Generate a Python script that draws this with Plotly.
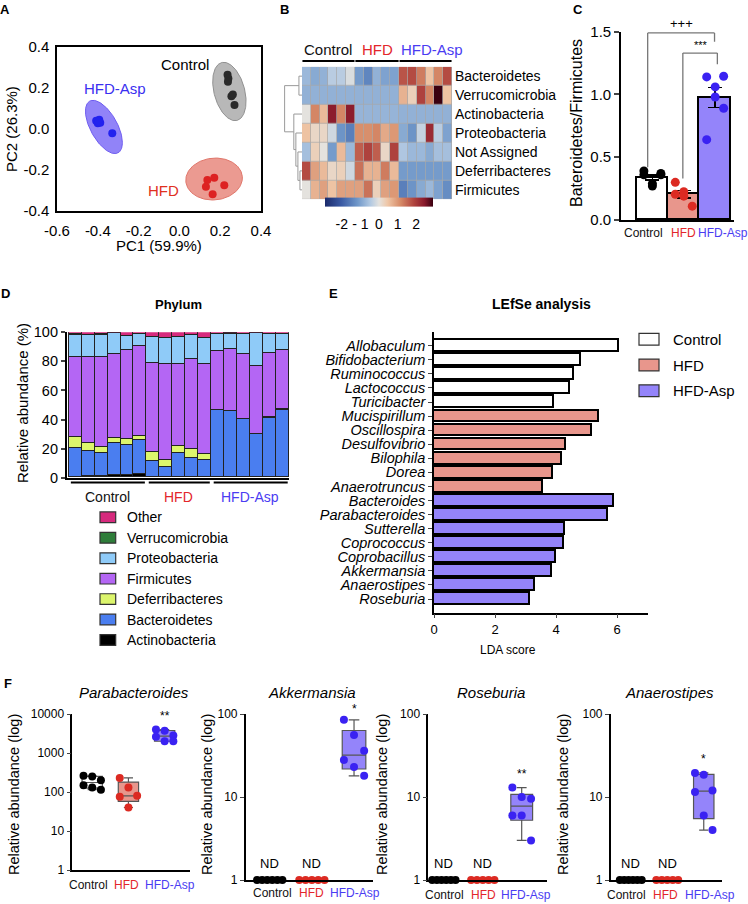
import numpy as np
import plotly.graph_objects as go

W, H = 748, 904
FONT = "Liberation Sans, Arial, sans-serif"


def xd(a, b):
    return [a / W, b / W]


def yd(t, b):
    return [1 - b / H, 1 - t / H]


def px(x):
    return x / W


def py(y):
    return 1 - y / H


groups = ["Control", "HFD", "HFD-Asp"]
group_text_color = {"Control": "#111111", "HFD": "#e3262b", "HFD-Asp": "#4a3cf2"}
group_fill = {"Control": "#ffffff", "HFD": "#e8968c", "HFD-Asp": "#9484fa"}
group_dot = {"Control": "#000000", "HFD": "#dc2a22", "HFD-Asp": "#3a22f2"}

# ---------------- A: PCA ----------------
pca_control_pc1 = [0.236, 0.240, 0.238, 0.255, 0.262, 0.270]
pca_control_pc2 = [0.265, 0.246, 0.231, 0.160, 0.168, 0.117]
pca_hfd_pc1 = [0.137, 0.171, 0.220, 0.130, 0.163]
pca_hfd_pc2 = [-0.249, -0.238, -0.275, -0.282, -0.318]
pca_asp_pc1 = [-0.408, -0.400, -0.393, -0.388, -0.395, -0.329]
pca_asp_pc2 = [0.040, 0.028, 0.045, 0.031, 0.036, -0.021]
# confidence ellipses: centre x, centre y, semi-major, semi-minor, angle (deg)
ellipse_control = [0.245, 0.183, 0.146, 0.075, 105]
ellipse_hfd = [0.170, -0.244, 0.139, 0.102, 5]
ellipse_asp = [-0.370, 0.010, 0.144, 0.066, 119]
pc_ticks = [-0.6, -0.4, -0.2, 0.0, 0.2, 0.4]
pc2_ticks = [-0.4, -0.2, 0.0, 0.2, 0.4]

# ---------------- B: heatmap ----------------
heat_rows = ["Bacteroidetes", "Verrucomicrobia", "Actinobacteria", "Proteobacteria",
             "Not Assigned", "Deferribacteres", "Firmicutes"]
heat_bacteroidetes = [-0.7, -0.9, -0.8, -0.4, -0.4, -0.1, -1.1, -1.4, -0.8, -1.0, -1.0, 1.7, 1.8, 1.3, 0.5, 1.2, 1.8]
heat_verrucomicrobia = [-0.8, -0.8, -0.8, -0.8, -0.8, -0.8, -0.8, -0.8, -0.8, -0.8, -0.8, 0.7, 0.3, 1.9, 1.2, 2.9, 0.5]
heat_actinobacteria = [0.0, 1.2, 0.6, 2.4, 1.2, 2.4, -0.75, -0.75, -0.75, -0.75, -0.75, -0.8, -0.8, -0.8, -0.8, -0.8, -0.8]
heat_proteobacteria = [0.5, 0.2, 0.2, -0.2, -1.2, -1.5, 1.1, 1.1, 1.2, 0.8, 1.0, -0.9, -1.2, -0.3, 2.2, -0.4, -1.0]
heat_not_assigned = [-0.6, 0.3, 0.0, -1.1, 0.6, -0.7, 1.6, 1.9, 1.6, 0.2, 1.9, -0.5, -0.7, -0.7, -0.9, -0.6, -0.6]
heat_deferribacteres = [1.8, 0.9, 0.6, 0.2, 0.3, -0.2, 1.4, 0.7, 0.7, 1.3, 0.6, -1.1, -1.1, -1.1, -1.1, -1.1, -1.1]
heat_firmicutes = [0.0, 0.7, 0.9, 0.5, 0.9, 0.9, 0.9, 1.4, 0.3, 0.9, 1.0, -1.5, -1.2, -0.9, -0.7, -1.0, -1.3]
heat_group_sizes = [6, 5, 6]
# dendrogram merges: (child a, child b, height); leaves 0..6, new nodes 7..
dendro_merges = [(5, 6, 2.0), (4, 7, 4.0), (3, 8, 6.0), (2, 9, 8.0), (0, 1, 3.0), (11, 10, 17.0)]
cbar_ticks = [-2, -1, 0, 1, 2]
cbar_ticktext = ["-2", "- 1", "0", "1", "2"]

# ---------------- C: ratio ----------------
ratio_control = [0.36, 0.27, 0.37, 0.39, 0.29, 0.36]
ratio_hfd = [0.30, 0.225, 0.11, 0.205, 0.19]
ratio_asp = [1.14, 1.06, 1.145, 0.64, 0.98, 0.89]

# ---------------- D: phylum stacked ----------------
phyla = ["Actinobacteria", "Bacteroidetes", "Deferribacteres", "Firmicutes",
         "Proteobacteria", "Verrucomicrobia", "Other"]
phylum_colors = ["#000000", "#4a7ef0", "#dcf56c", "#b466f4", "#8fcbf8", "#2f7d3a", "#d62a7d"]
actinobacteria = [0.3, 1.1, 0.7, 1.8, 1.4, 2.1, 0.2, 0.2, 0.2, 0.2, 0.2, 0.1, 0.1, 0.1, 0.1, 0.1, 0.1]
bacteroidetes = [19.8, 17.2, 16.0, 21.7, 21.0, 23.7, 10.8, 6.9, 16.5, 13.0, 11.7, 46.0, 45.5, 39.8, 29.7, 40.9, 46.6]
deferribacteres = [7.5, 5.2, 4.3, 3.4, 3.9, 3.0, 6.4, 4.8, 4.8, 6.2, 4.5, 0.3, 0.3, 0.3, 0.3, 0.3, 0.3]
firmicutes = [55.0, 59.4, 61.9, 58.3, 61.1, 61.4, 61.4, 66.0, 56.8, 61.7, 61.9, 40.8, 42.7, 45.0, 46.8, 44.1, 40.9]
proteobacteria = [15.6, 14.8, 15.3, 14.1, 9.9, 8.4, 17.5, 18.2, 18.0, 16.6, 17.8, 11.2, 10.3, 13.2, 22.2, 13.0, 10.5]
verrucomicrobia = [0.1, 0.1, 0.1, 0.1, 0.1, 0.1, 0.1, 0.1, 0.1, 0.1, 0.1, 0.4, 0.3, 0.5, 0.3, 0.4, 0.4]
other = [1.7, 2.2, 1.7, 0.6, 2.6, 1.3, 3.6, 3.8, 3.6, 2.2, 3.8, 1.2, 0.8, 1.1, 0.6, 1.2, 1.2]
abundance_ticks = [0, 20, 40, 60, 80, 100]

# ---------------- E: LEfSe ----------------
genera = ["Allobaculum", "Bifidobacterium", "Ruminococcus", "Lactococcus", "Turicibacter",
          "Mucispirillum", "Oscillospira", "Desulfovibrio", "Bilophila", "Dorea", "Anaerotruncus",
          "Bacteroides", "Parabacteroides", "Sutterella", "Coprococcus", "Coprobacillus",
          "Akkermansia", "Anaerostipes", "Roseburia"]
lda_score = [6.06, 4.83, 4.59, 4.44, 3.92, 5.39, 5.19, 4.34, 4.20, 3.90, 3.57,
             5.88, 5.70, 4.30, 4.25, 3.98, 3.88, 3.32, 3.16]
lda_group = ["Control", "Control", "Control", "Control", "Control",
             "HFD", "HFD", "HFD", "HFD", "HFD", "HFD",
             "HFD-Asp", "HFD-Asp", "HFD-Asp", "HFD-Asp", "HFD-Asp", "HFD-Asp", "HFD-Asp", "HFD-Asp"]
lda_ticks = [0, 2, 4, 6]

# ---------------- F: genus abundance ----------------
f_titles = ["Parabacteroides", "Akkermansia", "Roseburia", "Anaerostipes"]
para_control = [260, 250, 200, 150, 130, 115]
para_hfd = [230, 130, 80, 75, 40]
para_asp = [4000, 3700, 2800, 2600, 2000, 2000]
akk_control = [1, 1, 1, 1, 1, 1]   # ND
akk_hfd = [1, 1, 1, 1, 1]          # ND
akk_asp = [85, 56, 36, 28, 23, 18]
ros_control = [1, 1, 1, 1, 1, 1]   # ND
ros_hfd = [1, 1, 1, 1, 1]          # ND
ros_asp = [13, 10, 9.5, 6, 6, 3]
ana_control = [1, 1, 1, 1, 1, 1]   # ND
ana_hfd = [1, 1, 1, 1, 1]          # ND
ana_asp = [19.5, 18.5, 12, 11.5, 6, 4]
f_nd = [[False, False], [True, True], [True, True], [True, True]]
f_stars = ["**", "*", "**", "*"]
f_ticks_big = [1, 10, 100, 1000, 10000]
f_ticks_small = [1, 10, 100]

fig = go.Figure()
annotations = []
shapes = []


def ann(text, x, y, size=14, color="#000", bold=False, xanchor="center", yanchor="middle",
        angle=0, italic=False, **kw):
    t = text
    if italic:
        t = "<i>" + t + "</i>"
    if bold:
        t = "<b>" + t + "</b>"
    annotations.append(dict(text=t, x=px(x), y=py(y), xref="paper", yref="paper",
                            showarrow=False, xanchor=xanchor, yanchor=yanchor, textangle=angle,
                            font=dict(family=FONT, size=size, color=color), **kw))


def legend_item(x0, x1, yc, h, color, label, tx, size):
    shapes.append(dict(type="rect", xref="paper", yref="paper", x0=px(x0), x1=px(x1),
                       y0=py(yc + h / 2), y1=py(yc - h / 2), fillcolor=color,
                       line=dict(color="#333", width=1.2)))
    ann(label, tx, yc, size=size, xanchor="left")


def offsets(n, w):
    pat = [-w, 0.0, w]
    return np.array([pat[i % 3] for i in range(n)])


# ================= A =================
def ellipse_path(params, n=160):
    cx, cy, a, b, ang = params
    t = np.linspace(0, 2 * np.pi, n)
    th = np.deg2rad(ang)
    x = cx + a * np.cos(th) * np.cos(t) - b * np.sin(th) * np.sin(t)
    y = cy + a * np.sin(th) * np.cos(t) + b * np.cos(th) * np.sin(t)
    return x, y


for params, fillc, linec in [(ellipse_control, "rgba(160,160,160,0.75)", "#909090"),
                             (ellipse_hfd, "rgba(228,120,108,0.75)", "#e0766a"),
                             (ellipse_asp, "rgba(118,100,246,0.8)", "#6e5cf0")]:
    ex, ey = ellipse_path(params)
    fig.add_trace(go.Scatter(x=ex, y=ey, mode="lines", fill="toself", fillcolor=fillc,
                             line=dict(color=linec, width=1), xaxis="x", yaxis="y",
                             showlegend=False, hoverinfo="skip"))
for xs, ys, c in [(pca_control_pc1, pca_control_pc2, "#2a2a2a"),
                  (pca_hfd_pc1, pca_hfd_pc2, "#dd2222"),
                  (pca_asp_pc1, pca_asp_pc2, "#2222ee")]:
    fig.add_trace(go.Scatter(x=xs, y=ys, mode="markers", marker=dict(color=c, size=8),
                             xaxis="x", yaxis="y", showlegend=False))

ann("Control", 211, 64, size=15, xanchor="right")
ann("HFD-Asp", 115, 89, size=15, color="#3a2ff0")
ann("HFD", 181, 191, size=15, color="#e0301e", xanchor="right")
ann("PC1 (59.9%)", 159, 245, size=15)
ann("PC2 (26.3%)", 11, 129, size=15, angle=-90)

# ================= B =================
heat_z = [heat_bacteroidetes, heat_verrucomicrobia, heat_actinobacteria, heat_proteobacteria,
          heat_not_assigned, heat_deferribacteres, heat_firmicutes]
ncol = len(heat_bacteroidetes)
heat_scale = [[0.0, "#1b2a6b"], [0.15, "#3a5aa4"], [0.3, "#6f97c9"], [0.42, "#b2c9e2"],
              [0.5, "#e4e2de"], [0.58, "#efc6a6"], [0.7, "#d68a67"], [0.82, "#b1453f"],
              [0.92, "#8a1a2c"], [1.0, "#3a0010"]]
shapes.append(dict(type="rect", xref="x2", yref="y2", x0=-0.5, x1=ncol - 0.5, y0=-0.5, y1=6.5,
                   fillcolor="#a8a8a8", line=dict(width=0), layer="below"))
fig.add_trace(go.Heatmap(z=heat_z, x=list(range(ncol)), y=list(range(len(heat_rows))),
                         colorscale=heat_scale, zmin=-2.9, zmax=2.9, xgap=0.7, ygap=0.7,
                         xaxis="x2", yaxis="y2", hoverinfo="skip",
                         colorbar=dict(orientation="h", x=px(379), xanchor="center",
                                       y=py(215), yanchor="middle", len=128, lenmode="pixels",
                                       thickness=9, thicknessmode="pixels", outlinewidth=0,
                                       tickvals=cbar_ticks, ticktext=cbar_ticktext,
                                       ticks="outside", ticklen=6, tickcolor="rgba(0,0,0,0)",
                                       tickfont=dict(family=FONT, size=14, color="#000"))))

# dendrogram
node_y = {i: float(i) for i in range(len(heat_rows))}
node_h = {i: 0.0 for i in range(len(heat_rows))}
dx, dy = [], []
for k, (a, b, h) in enumerate(dendro_merges):
    nid = len(heat_rows) + k
    ya, yb = node_y[a], node_y[b]
    dx += [node_h[a], h, h, node_h[b], None]
    dy += [ya, ya, yb, yb, None]
    node_y[nid] = (ya + yb) / 2
    node_h[nid] = h
fig.add_trace(go.Scatter(x=dx, y=dy, mode="lines", line=dict(color="#9a9a9a", width=1),
                         xaxis="x3", yaxis="y3", showlegend=False, hoverinfo="skip"))

start = 0
for g, n in zip(groups, heat_group_sizes):
    shapes.append(dict(type="line", xref="x2", yref="paper", x0=start - 0.45, x1=start + n - 0.55,
                       y0=py(61), y1=py(61), line=dict(color="#000", width=2)))
    shift = 6 if g == "HFD-Asp" else 0
    annotations.append(dict(text=g, x=start + (n - 1) / 2, y=py(49), xref="x2", yref="paper",
                            showarrow=False, xshift=shift, yanchor="middle",
                            font=dict(family=FONT, size=15, color=group_text_color[g])))
    start += n

# ================= C =================
ratio_sets = [ratio_control, ratio_hfd, ratio_asp]
means = [float(np.mean(v)) for v in ratio_sets]
sems = [float(np.std(v, ddof=1) / np.sqrt(len(v))) for v in ratio_sets]
fig.add_trace(go.Bar(x=[0, 1, 2], y=means, width=1.0,
                     marker=dict(color=[group_fill[g] for g in groups],
                                 line=dict(color="#000", width=1.6)),
                     error_y=dict(type="data", array=sems, color="#000", thickness=1.5, width=7),
                     xaxis="x4", yaxis="y4", showlegend=False))
for i, (g, v) in enumerate(zip(groups, ratio_sets)):
    fig.add_trace(go.Scatter(x=i + offsets(len(v), 0.27), y=v, mode="markers",
                             marker=dict(color=group_dot[g], size=9), cliponaxis=False,
                             xaxis="x4", yaxis="y4", showlegend=False))
gray = "#777"
shapes += [
    dict(type="line", xref="x4", yref="y4", x0=-0.15, x1=-0.15, y0=max(ratio_control) + 0.03, y1=1.49, line=dict(color=gray, width=1.3)),
    dict(type="line", xref="x4", yref="y4", x0=-0.15, x1=1.98, y0=1.49, y1=1.49, line=dict(color=gray, width=1.3)),
    dict(type="line", xref="x4", yref="y4", x0=1.98, x1=1.98, y0=1.49, y1=1.42, line=dict(color=gray, width=1.3)),
    dict(type="line", xref="x4", yref="y4", x0=0.97, x1=0.97, y0=max(ratio_hfd) + 0.03, y1=1.33, line=dict(color=gray, width=1.3)),
    dict(type="line", xref="x4", yref="y4", x0=0.97, x1=2.07, y0=1.33, y1=1.33, line=dict(color=gray, width=1.3)),
    dict(type="line", xref="x4", yref="y4", x0=2.07, x1=2.07, y0=1.33, y1=1.24, line=dict(color=gray, width=1.3)),
]
annotations.append(dict(text="+++", x=0.92, y=1.49, xref="x4", yref="y4", yanchor="bottom",
                        showarrow=False, font=dict(family=FONT, size=13, color="#000")))
annotations.append(dict(text="***", x=1.55, y=1.33, xref="x4", yref="y4", yanchor="bottom",
                        showarrow=False, font=dict(family=FONT, size=11, color="#000")))
ann("Bateroidetes/Firmicutes", 577, 123, size=16, angle=-90)
for g, cx in zip(groups, [643, 683, 722.5]):
    ann(g, cx, 233, size=12, color=group_text_color[g])

# ================= D =================
phylum_values = [actinobacteria, bacteroidetes, deferribacteres, firmicutes,
                 proteobacteria, verrucomicrobia, other]
nsamp = len(bacteroidetes)
for name, col, vals in zip(phyla, phylum_colors, phylum_values):
    fig.add_trace(go.Bar(x=list(range(nsamp)), y=vals, name=name, width=1.0,
                         marker=dict(color=col, line=dict(color="#222", width=1.1)),
                         xaxis="x5", yaxis="y5", showlegend=False))
start = 0
for g, n in zip(groups, heat_group_sizes):
    shapes.append(dict(type="line", xref="x5", yref="paper", x0=start - 0.3, x1=start + n - 0.6,
                       y0=py(482.5), y1=py(482.5), line=dict(color="#000", width=2)))
    annotations.append(dict(text=g, x=start + (n - 1) / 2, y=py(497), xref="x5", yref="paper",
                            showarrow=False, font=dict(family=FONT, size=14, color=group_text_color[g])))
    start += n
ann("Phylum", 178, 304, size=13, bold=True)
ann("Relative abundance (%)", 22, 403, size=15, angle=-90)
# legend (top = last phylum)
for j, (name, col) in enumerate(zip(phyla[::-1], phylum_colors[::-1])):
    legend_item(100, 115.7, 517.3 + 20.45 * j, 10.7, col, name, 125, 14)

# ================= E =================
for g in groups:
    idx = [i for i, gg in enumerate(lda_group) if gg == g]
    fig.add_trace(go.Bar(y=idx, x=[lda_score[i] for i in idx], orientation="h", width=0.84,
                         name=g, marker=dict(color=group_fill[g], line=dict(color="#000", width=1.6)),
                         xaxis="x6", yaxis="y6", showlegend=False))
ann("LEfSe analysis", 541, 304, size=14, bold=True)
ann("LDA score", 508, 650, size=12)
for j, g in enumerate(groups):
    legend_item(639, 659, 339.3 + 25.7 * j, 11.7, group_fill[g], g, 670.5, 15)

# ================= F =================
f_data = [[para_control, para_hfd, para_asp], [akk_control, akk_hfd, akk_asp],
          [ros_control, ros_hfd, ros_asp], [ana_control, ana_hfd, ana_asp]]
f_geom = [dict(x0=72.3, x1=190, top=714, bottom=870, xr=[-0.55, 2.7], ticks=f_ticks_big),
          dict(x0=245.7, x1=373, top=714, bottom=880, xr=[-0.57, 2.45], ticks=f_ticks_small),
          dict(x0=428.3, x1=547, top=714, bottom=880, xr=[-0.4, 2.65], ticks=f_ticks_small),
          dict(x0=610.7, x1=722, top=714, bottom=880, xr=[-0.55, 2.5], ticks=f_ticks_small)]
f_ytitle_x = [14, 207, 382, 563]
f_label_x = [[88.5, 126.5, 170], [272, 311.7, 355], [444, 483, 526], [626.7, 665.8, 709.5]]
f_label_y = [885, 893, 895, 895]
f_star_shift = [5, 2, 5, 5]
layout_axes = {}
for k, (title, sets, geom, nd, star) in enumerate(zip(f_titles, f_data, f_geom, f_nd, f_stars)):
    ax = 7 + k
    xa, ya = "x%d" % ax, "y%d" % ax
    for i, (g, v) in enumerate(zip(groups, sets)):
        is_nd = i < 2 and nd[i]
        if is_nd:
            fig.add_trace(go.Scatter(x=i + np.linspace(-0.3, 0.3, len(v)), y=v, mode="markers",
                                     marker=dict(color=group_dot[g], size=8), cliponaxis=False,
                                     xaxis=xa, yaxis=ya, showlegend=False))
            annotations.append(dict(text="ND", x=i, y=0, xref=xa, yref=ya, yanchor="bottom",
                                    yshift=7, showarrow=False,
                                    font=dict(family=FONT, size=13, color="#000")))
            continue
        q1, med, q3 = np.percentile(v, [25, 50, 75], method="weibull")
        fig.add_trace(go.Box(x=[i], q1=[q1], median=[med], q3=[q3], lowerfence=[min(v)],
                             upperfence=[max(v)], width=0.56, whiskerwidth=0.45,
                             fillcolor=group_fill[g], line=dict(color="#555", width=1.2),
                             xaxis=xa, yaxis=ya, showlegend=False, hoverinfo="skip"))
        fig.add_trace(go.Scatter(x=i + offsets(len(v), 0.24), y=v, mode="markers",
                                 marker=dict(color=group_dot[g], size=8), cliponaxis=False,
                                 xaxis=xa, yaxis=ya, showlegend=False))
    annotations.append(dict(text=star, x=2, y=float(np.log10(max(sets[2]))), xref=xa, yref=ya,
                            yanchor="bottom", yshift=f_star_shift[k], showarrow=False,
                            font=dict(family=FONT, size=12, color="#000")))
    ann(title, (geom["x0"] + geom["x1"]) / 2 + 3, 692, size=15, italic=True)
    ann("Relative abundance (log)", f_ytitle_x[k], 795, size=14.5, angle=-90)
    for g, lx in zip(groups, f_label_x[k]):
        ann(g, lx, f_label_y[k], size=12, color=group_text_color[g])
    tk = geom["ticks"]
    layout_axes["xaxis%d" % ax] = dict(domain=xd(geom["x0"], geom["x1"]), range=geom["xr"],
                                       anchor=ya, showticklabels=False, ticks="",
                                       showline=True, linecolor="#000", automargin=False,
                                       linewidth=1.6, showgrid=False, zeroline=False)
    layout_axes["yaxis%d" % ax] = dict(domain=yd(geom["top"], geom["bottom"]), type="log",
                                       range=[0, np.log10(tk[-1])], anchor=xa, tickvals=tk,
                                       ticktext=[str(t) for t in tk], ticks="outside", ticklen=4,
                                       tickwidth=1.4, tickfont=dict(size=12), showline=True,
                                       linecolor="#000", linewidth=1.6, showgrid=False,
                                       zeroline=False, automargin=False)

# panel letters
for letter, x, y in [("A", 5, 9), ("B", 284, 9), ("C", 578, 9), ("D", 5, 293), ("E", 333, 293), ("F", 8, 683)]:
    ann(letter, x, y, size=13, bold=True)

common = dict(showgrid=False, zeroline=False, showline=True, linecolor="#000", automargin=False)
fig.update_layout(
    width=W, height=H, margin=dict(l=0, r=0, t=0, b=0, autoexpand=False),
    paper_bgcolor="#ffffff", plot_bgcolor="rgba(0,0,0,0)",
    font=dict(family=FONT, size=14, color="#000"),
    barmode="stack", bargap=0, showlegend=False,
    annotations=annotations, shapes=shapes,
    xaxis=dict(domain=xd(57, 261), range=[-0.6, 0.4], anchor="y", tickvals=pc_ticks,
               ticktext=["-0.6", "-0.4", "-0.2", "0.0", "0.2", "0.4"], mirror=True, ticks="",
               ticklabelstandoff=5, linewidth=1.5, tickfont=dict(size=15), tickangle=0, **common),
    yaxis=dict(domain=yd(47, 211), range=[-0.4, 0.4], anchor="x", tickvals=pc2_ticks,
               ticktext=["-0.4", "-0.2", "0.0", "0.2", "0.4"], mirror=True, ticks="",
               ticklabelstandoff=3, linewidth=1.5, tickfont=dict(size=15), **common),
    xaxis2=dict(domain=xd(302, 452), range=[-0.5, ncol - 0.5], anchor="y2", showticklabels=False,
                showgrid=False, zeroline=False, showline=False, ticks="", automargin=False),
    yaxis2=dict(domain=yd(66.7, 199.3), range=[6.5, -0.5], anchor="x2", side="right",
                tickvals=list(range(len(heat_rows))), ticktext=heat_rows, ticks="",
                ticklabelstandoff=2, tickfont=dict(size=14), showgrid=False, zeroline=False,
                showline=False, automargin=False),
    xaxis3=dict(domain=xd(284, 302), range=[17.6, 0], anchor="y3", visible=False, automargin=False),
    yaxis3=dict(domain=yd(66.7, 199.3), range=[6.5, -0.5], anchor="x3", visible=False, automargin=False),
    xaxis4=dict(domain=xd(621, 734), range=[-1.0, 2.6], anchor="y4", showticklabels=False,
                ticks="", linewidth=1.6, **common),
    yaxis4=dict(domain=yd(31.7, 220), range=[0, 1.5], anchor="x4", tickvals=[0, 0.5, 1.0, 1.5],
                ticktext=["0.0", "0.5", "1.0", "1.5"], ticks="outside", ticklen=5, tickwidth=1.5,
                tickfont=dict(size=15), linewidth=1.6, **common),
    xaxis5=dict(domain=xd(66.7, 289), range=[-0.62, nsamp - 0.5], anchor="y5",
                showticklabels=False, ticks="", linewidth=1.6, **common),
    yaxis5=dict(domain=yd(332.3, 477.7), range=[0, 100], anchor="x5", tickvals=abundance_ticks,
                ticks="outside", ticklen=4, tickwidth=1.5, tickfont=dict(size=14.5),
                linewidth=1.6, **common),
    xaxis6=dict(domain=xd(434, 647.7), range=[0, 7], anchor="y6", tickvals=lda_ticks,
                ticks="outside", ticklen=4, tickwidth=1.4, tickfont=dict(size=13),
                linewidth=1.5, **common),
    yaxis6=dict(domain=yd(331.7, 612.7), range=[18.97, -1.0], anchor="x6",
                tickvals=list(range(len(genera))), ticktext=["<i>%s</i>" % g for g in genera],
                ticks="outside", ticklen=4, tickwidth=1.3, tickfont=dict(size=14.5),
                linewidth=1.5, **common),
    **layout_axes,
)

fig.write_html("out.html", post_script="document.body.style.margin='0px';",
               config={"displayModeBar": False})
